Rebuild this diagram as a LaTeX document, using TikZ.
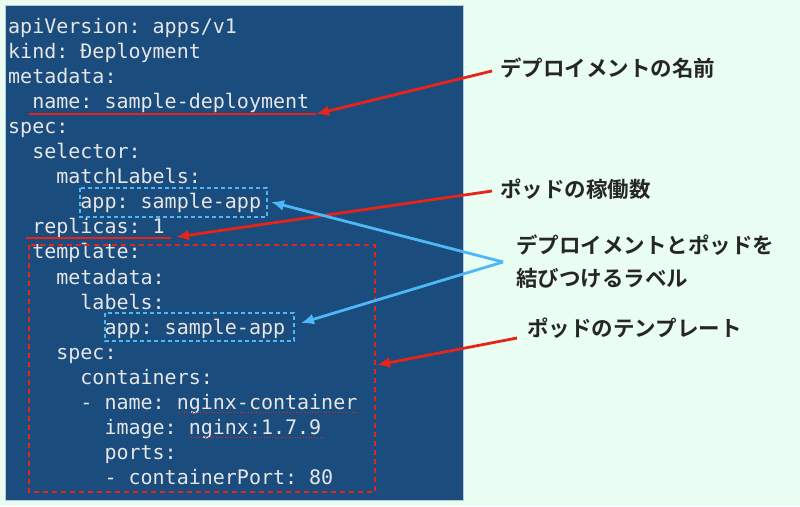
\documentclass[tikz,border=0pt]{standalone}
\usepackage{fontspec}
\setmonofont{DejaVu Sans Mono}
\newfontfamily\jp{Noto Sans CJK JP}[BoldFont={* Bold}]
\usetikzlibrary{arrows.meta}
\definecolor{bgc}{HTML}{E9FDF3}
\definecolor{box}{HTML}{1A4C7E}
\definecolor{code}{HTML}{E6E6E6}
\definecolor{redc}{HTML}{E8231A}
\definecolor{bluec}{HTML}{4DB8F5}
\begin{document}
\begin{tikzpicture}[x=1pt,y=-1pt,
  cl/.style={anchor=base west,inner sep=0pt,text=code,font=\ttfamily\fontsize{20}{20}\selectfont},
  lab/.style={anchor=west,inner sep=0pt,text=black!85,font=\jp\bfseries\fontsize{21.5}{24}\selectfont},
  rarr/.style={draw=redc,line width=2.8pt,-{Latex[length=13pt,width=11pt]}},
  barr/.style={draw=bluec,line width=2.8pt,-{Latex[length=13pt,width=11pt]}},
  rul/.style={draw=redc,line width=2pt},
  bbox/.style={draw=bluec,line width=1.6pt,dash pattern=on 4pt off 3pt},
  rbox/.style={draw=redc,line width=1.6pt,dash pattern=on 5pt off 4pt}]
\useasboundingbox (0,0) rectangle (800,506);
\fill[bgc] (0,0) rectangle (800,506);
\fill[box] (5,5) rectangle (463,500);
\draw[white!70!box,line width=0.6pt] (5,5) rectangle (463,500);
\def\lh{25.1}
\foreach \t [count=\i from 0] in {apiVersion: apps/v1,kind: Đeployment,metadata:,{\ \ name: sample-deployment},spec:,{\ \ selector:},{\ \ \ \ matchLabels:},{\ \ \ \ \ \ app: sample-app},{\ \ replicas: 1},{\ \ template:},{\ \ \ \ metadata:},{\ \ \ \ \ \ labels:},{\ \ \ \ \ \ \ \ app: sample-app},{\ \ \ \ spec:},{\ \ \ \ \ \ containers:},{\ \ \ \ \ \ - name: nginx-container},{\ \ \ \ \ \ \ \ image: nginx:1.7.9},{\ \ \ \ \ \ \ \ ports:},{\ \ \ \ \ \ \ \ - containerPort: 80}}
  \node[cl] (l\i) at (8,{33+\i*\lh}) {\t};
% red underlines
\draw[rul] (29,114) -- (316,114);
\draw[rul] (26,238) -- (171,238);
% spell-check dots
\draw[redc,line width=0.8pt,dotted] (178,412) -- (360,412);
\draw[redc,line width=0.8pt,dotted] (191,437) -- (324,437);
% boxes
\draw[bbox] (80,188) rectangle (267,217);
\draw[bbox] (105,313) rectangle (294,341);
\draw[rbox] (29,245) rectangle (375,492);
% labels
\node[lab] (t1) at (500,68) {デプロイメントの名前};
\node[lab] (t2) at (500,189) {ポッドの稼働数};
\node[lab] (t3) at (516,245) {デプロイメントとポッドを};
\node[lab] (t3b) at (516,278) {結びつけるラベル};
\node[lab] (t4) at (527,328) {ポッドのテンプレート};
% arrows
\coordinate (a1s) at (492,71); \coordinate (a1e) at (316,114);
\coordinate (a2s) at (492,191); \coordinate (a2e) at (176,237);
\coordinate (bs) at (503,262); \coordinate (b1e) at (271,202); \coordinate (b2e) at (301,323);
\coordinate (a4s) at (517,338); \coordinate (a4e) at (377,365);
\draw[rarr] (a1s) -- (a1e);
\draw[rarr] (a2s) -- (a2e);
\draw[barr] (bs) -- (b1e);
\draw[barr] (bs) -- (b2e);
\draw[rarr] (a4s) -- (a4e);
\end{tikzpicture}
\end{document}
